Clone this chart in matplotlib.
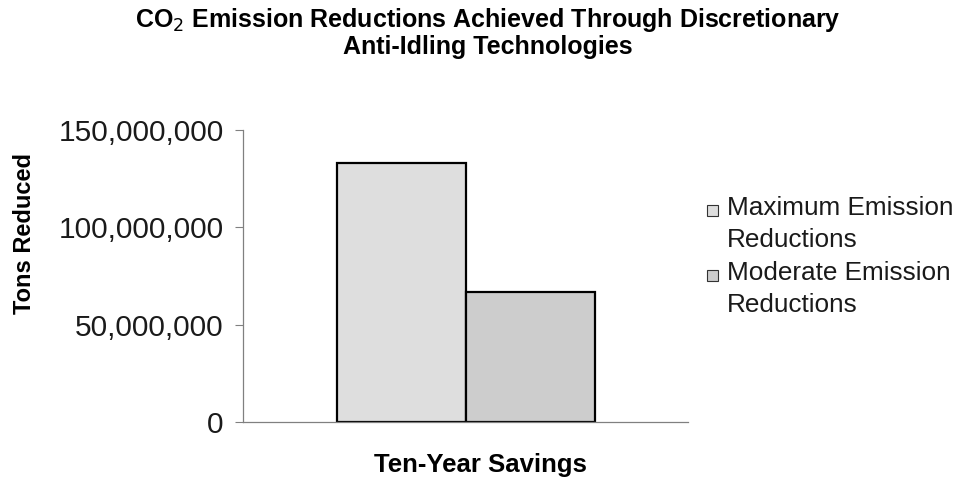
import matplotlib.pyplot as plt
from matplotlib.patches import Rectangle
from matplotlib.ticker import FuncFormatter

plt.rcParams["font.family"] = ["Liberation Sans", "DejaVu Sans"]

# ten-year CO2 savings, tons
category = ["Ten-Year Savings"]
series_names = ["Maximum Emission\nReductions", "Moderate Emission\nReductions"]
series_values = [133_000_000, 66_500_000]
series_colors = ["#dedede", "#cdcdcd"]
y_ticks = [0, 50_000_000, 100_000_000, 150_000_000]

W, H = 957, 479
fig = plt.figure(figsize=(W / 100, H / 100), dpi=100)
ax = fig.add_axes([0.254, 0.119, 0.465, 0.61])

width = 0.29
offsets = [-width / 2, width / 2]
for name, val, col, off in zip(series_names, series_values, series_colors, offsets):
    ax.bar(0 + off, val, width=width, color=col, edgecolor="black",
           linewidth=1.6, label=name)

ax.set_xlim(-0.5, 0.5)
ax.set_ylim(0, 150_000_000)
ax.set_yticks(y_ticks)
ax.yaxis.set_major_formatter(FuncFormatter(lambda v, p: f"{int(v):,}"))
ax.set_xticks([])
ax.tick_params(axis="y", labelsize=21.5, length=6, width=0.8, color="#808080",
               pad=8, labelcolor="#1a1a1a")

for s in ["top", "right"]:
    ax.spines[s].set_visible(False)
for s in ["left", "bottom"]:
    ax.spines[s].set_color("#808080")
    ax.spines[s].set_linewidth(0.9)

fig.text(0.026, 0.513, "Tons Reduced", rotation=90, ha="center", va="center",
         fontsize=17, fontweight="bold")
fig.text(0.502, 0.03, category[0], ha="center", va="center",
         fontsize=18.5, fontweight="bold")

fig.text(0.51, 0.958, "CO$_2$ Emission Reductions Achieved Through Discretionary",
         ha="center", va="center", fontsize=18, fontweight="bold")
fig.text(0.51, 0.902, "Anti-Idling Technologies",
         ha="center", va="center", fontsize=18, fontweight="bold")

# legend built by hand so the swatch sits on the first text line
for i, (name, col) in enumerate(zip(series_names, series_colors)):
    y_mid = 210 + i * 65  # pixel row of the entry's first line
    fig.patches.append(Rectangle((707 / W, 1 - (y_mid + 6) / H), 11 / W, 11 / H,
                                 transform=fig.transFigure, facecolor=col,
                                 edgecolor="#333333", linewidth=0.8))
    fig.text(727 / W, 1 - (y_mid - 14) / H, name, ha="left", va="top",
             fontsize=18.8, linespacing=1.42, color="#1a1a1a")

fig.savefig("out.png", dpi=100)
